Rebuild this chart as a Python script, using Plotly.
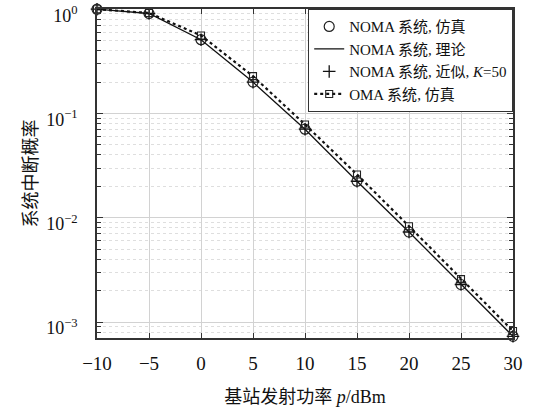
import plotly.graph_objects as go

p_dbm = [-10, -5, 0, 5, 10, 15, 20, 25, 30]
noma_sim = [1.0, 0.91, 0.51, 0.200, 0.0707, 0.0224, 0.0073, 0.00229, 0.00073]
noma_theory = [1.0, 0.91, 0.51, 0.200, 0.0707, 0.0224, 0.0073, 0.00229, 0.00073]
noma_approx = [1.0, 0.91, 0.51, 0.200, 0.0707, 0.0224, 0.0073, 0.00229, 0.00073]
oma_sim = [1.0, 0.92, 0.56, 0.228, 0.0785, 0.026, 0.0083, 0.00258, 0.00082]

y_tickvals = [1, 0.1, 0.01, 0.001]
y_ticktext = ["10<sup>0</sup>", "10<sup>−1</sup>", "10<sup>−2</sup>", "10<sup>−3</sup>"]
x_tickvals = [-10, -5, 0, 5, 10, 15, 20, 25, 30]

FONT = "Liberation Serif, Times New Roman, Noto Sans CJK SC, serif"

fig = go.Figure()
fig.add_trace(go.Scatter(x=p_dbm, y=noma_sim, mode="markers", name="NOMA 系统, 仿真", cliponaxis=False,
                         marker=dict(symbol="circle-open", size=10, color="#222", line=dict(width=1.2))))
fig.add_trace(go.Scatter(x=p_dbm, y=noma_theory, mode="lines", name="NOMA 系统, 理论", cliponaxis=False,
                         line=dict(color="#111", width=1.3)))
fig.add_trace(go.Scatter(x=p_dbm, y=noma_approx, mode="markers", name="NOMA 系统, 近似, <i>K</i>=50", cliponaxis=False,
                         marker=dict(symbol="cross-thin-open", size=9, color="#111", line=dict(width=1.3))))
fig.add_trace(go.Scatter(x=p_dbm, y=oma_sim, mode="lines+markers", name="OMA 系统, 仿真", cliponaxis=False,
                         line=dict(color="#111", width=2.2, dash="dot"),
                         marker=dict(symbol="square-open", size=7, color="#222", line=dict(width=1.1))))

axis_common = dict(showline=True, linecolor="#333", linewidth=1.5, mirror="ticks",
                   ticks="inside", tickcolor="#333",
                   zeroline=False, ticklabeloverflow="allow", automargin=False)

fig.update_xaxes(range=[-10, 30], tickvals=x_tickvals, ticklen=5, ticklabelstandoff=7,
                 tickfont=dict(family=FONT, size=19, color="#111"),
                 showgrid=True, gridcolor="#d2d2d2", gridwidth=1,
                 title=dict(text="基站发射功率 <i>p</i>/dBm", font=dict(family=FONT, size=18, color="#111"), standoff=18),
                 **axis_common)
fig.update_yaxes(type="log", range=[-3.153, 0.002], tickvals=y_tickvals, ticktext=y_ticktext, ticklen=6,
                 ticklabelstandoff=14, ticklabelshift=6,
                 tickfont=dict(family=FONT, size=18, color="#111"),
                 showgrid=True, gridcolor="#d2d2d2", gridwidth=1,
                 minor=dict(dtick="D1", ticks="inside", ticklen=4, tickcolor="#333",
                            showgrid=True, gridcolor="#dedede", griddash="dot", gridwidth=1),
                 title=dict(text="系统中断概率", font=dict(family=FONT, size=18, color="#111"), standoff=4),
                 **axis_common)

fig.update_layout(
    width=533, height=411,
    margin=dict(l=97, r=20, t=9, b=73),
    plot_bgcolor="white", paper_bgcolor="white",
    font=dict(family=FONT, color="#111"),
    legend=dict(x=1, y=1, xanchor="right", yanchor="top",
                bgcolor="white", bordercolor="#333", borderwidth=1.2,
                font=dict(family=FONT, size=15, color="#111"),
                tracegroupgap=0, itemwidth=30),
    showlegend=True,
)

fig.write_html("out.html")
